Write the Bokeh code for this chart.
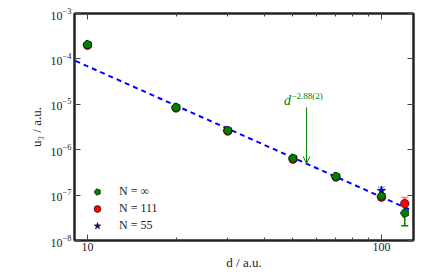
import numpy as np
from bokeh.plotting import figure
from bokeh.models import (ColumnDataSource, FixedTicker, BasicTickFormatter, LogAxis,
                          Legend, LegendItem, Label, Arrow, OpenHead, Whisker, TeeHead,
                          CustomJSTickFormatter)
from bokeh.embed import file_html
from bokeh.resources import INLINE

# ---------------- data ----------------
d_inf = [10, 20, 30, 50, 70, 100, 120]
u_inf = [2.07e-4, 8.6e-6, 2.65e-6, 6.5e-7, 2.57e-7, 9.5e-8, 4.0e-8]
e_inf = [0, 0, 0, 0, 0, 0.8e-8, 1.9e-8]

d_111 = [10, 20, 30, 50, 70, 100, 120]
u_111 = [2.0e-4, 8.3e-6, 2.57e-6, 6.2e-7, 2.5e-7, 9.0e-8, 6.5e-8]
e_111 = [0, 0, 0, 0, 0, 1.2e-8, 2.3e-8]

d_55 = [10, 20, 30, 50, 70, 100]
u_55 = [2.07e-4, 8.6e-6, 2.65e-6, 6.4e-7, 2.57e-7, 1.25e-7]
e_55 = [0, 0, 0, 0, 0, 2.5e-8]

fit_amp = 0.0522
fit_exp = -2.88
fit_d = [8.0, 140.0]

ann_d = 55.6
ann_tail = 8.6e-6
ann_tip = 5.0e-7
ann_base = "d"
ann_expo = "\u22122.88(2)"

x_ticks = [10, 100]
x_minor = [20, 30, 40, 50, 60, 70, 80, 90]
y_ticks = [1e-8, 1e-7, 1e-6, 1e-5, 1e-4, 1e-3]

labels = ["N = \u221e", "N = 111", "N = 55"]
x_label = "d / a.u."
y_label = "u\u2083 / a.u."

FONT = "Liberation Serif"
GREEN = "#008000"
RED = "#ff0000"
BLUE = "#0000ff"

W, H = 434, 272
p = figure(width=W, height=H, x_axis_type="log", y_axis_type="log",
           x_range=(9.03, 128.5), y_range=(1e-8, 1e-3),
           output_backend="svg", toolbar_location=None,
           min_border_left=74, min_border_right=W - 413, min_border_top=13,
           min_border_bottom=H - 240)
p.grid.visible = False
p.outline_line_color = "#222222"
p.outline_line_width = 2
p.background_fill_color = "white"
p.border_fill_color = "white"

def style_axis(ax, show_labels=True):
    ax.major_tick_in = 6
    ax.major_tick_out = 0
    ax.minor_tick_in = 3
    ax.minor_tick_out = 0
    ax.axis_line_color = "#222222"
    ax.axis_line_width = 2
    ax.major_tick_line_color = "#444444"
    ax.minor_tick_line_color = "#444444"
    ax.major_label_text_font = FONT
    ax.major_label_text_font_size = "12px"
    ax.major_label_text_color = "#222222"
    ax.axis_label_text_font = FONT
    ax.axis_label_text_font_size = "13px"
    ax.axis_label_text_font_style = "normal"
    ax.axis_label_text_color = "#222222"
    if not show_labels:
        ax.formatter = CustomJSTickFormatter(code="return ''")
        ax.major_label_standoff = 0
        ax.major_label_text_font_size = "1px"

p.xaxis.ticker = FixedTicker(ticks=x_ticks, minor_ticks=x_minor)
p.xaxis.formatter = BasicTickFormatter()
p.yaxis.ticker = FixedTicker(ticks=y_ticks, minor_ticks=[])
style_axis(p.xaxis[0])
style_axis(p.yaxis[0])
p.xaxis.major_label_standoff = 2
p.yaxis.major_label_standoff = 3
p.xaxis.axis_label = x_label
p.yaxis.axis_label = y_label
p.xaxis.axis_label_standoff = 1
p.yaxis.axis_label_standoff = 4

top = LogAxis(ticker=FixedTicker(ticks=x_ticks, minor_ticks=x_minor))
style_axis(top, show_labels=False)
p.add_layout(top, "above")
right = LogAxis(ticker=FixedTicker(ticks=y_ticks, minor_ticks=[]))
style_axis(right, show_labels=False)
p.add_layout(right, "right")

# fit line
fit_d_arr = np.array(fit_d)
p.line(fit_d_arr, fit_amp * fit_d_arr ** fit_exp, line_color=BLUE, line_width=2, line_dash="5 4")

def errbars(d, u, e, color, alpha):
    d = np.array(d); u = np.array(u); e = np.array(e)
    m = e > 0
    src = ColumnDataSource(dict(x=d[m], lo=(u - e)[m], hi=(u + e)[m]))
    w = Whisker(source=src, base="x", upper="hi", lower="lo", dimension="height",
                line_color=color, line_alpha=alpha, line_width=1.5,
                upper_head=TeeHead(size=7, line_color=color, line_alpha=alpha, line_width=1.5),
                lower_head=TeeHead(size=7, line_color=color, line_alpha=alpha, line_width=1.5))
    p.add_layout(w)

errbars(d_55, u_55, e_55, BLUE, 0.35)
errbars(d_111, u_111, e_111, RED, 0.5)
errbars(d_inf, u_inf, e_inf, GREEN, 1.0)

r55 = p.scatter(d_55, u_55, marker="star", size=9, fill_color=BLUE, line_color="black", line_width=0.6)
r111 = p.scatter(d_111, u_111, marker="circle", size=8.5, fill_color=RED, line_color="black", line_width=0.6)
rinf = p.ngon(d_inf, u_inf, radius=4.6, radius_units="screen", n=5, angle=np.pi / 2,
              fill_color=GREEN, line_color="black", line_width=0.6)

legend = Legend(items=[LegendItem(label=labels[0], renderers=[rinf]),
                       LegendItem(label=labels[1], renderers=[r111]),
                       LegendItem(label=labels[2], renderers=[r55])],
                location=(13, 6), border_line_color=None, background_fill_alpha=0,
                padding=5, margin=0, spacing=0, glyph_width=20, glyph_height=17,
                label_height=17, label_standoff=12,
                label_text_font=FONT, label_text_font_size="12px", label_text_color="#222222")
p.add_layout(legend, "center")

# annotation
p.add_layout(Arrow(end=OpenHead(size=7, line_color=GREEN, line_width=1),
                   x_start=ann_d, y_start=ann_tail, x_end=ann_d, y_end=ann_tip,
                   line_color=GREEN, line_width=1))
p.add_layout(Label(x=ann_d, y=ann_tail, x_offset=-19, y_offset=7, text=ann_base,
                   text_font=FONT, text_font_style="italic", text_font_size="14px",
                   text_color=GREEN, text_align="center", text_baseline="middle"))
p.add_layout(Label(x=ann_d, y=ann_tail, x_offset=-15, y_offset=11, text=ann_expo,
                   text_font=FONT, text_font_size="9px",
                   text_color=GREEN, text_align="left", text_baseline="middle"))

open("out.html", "w").write(file_html(p, INLINE))
